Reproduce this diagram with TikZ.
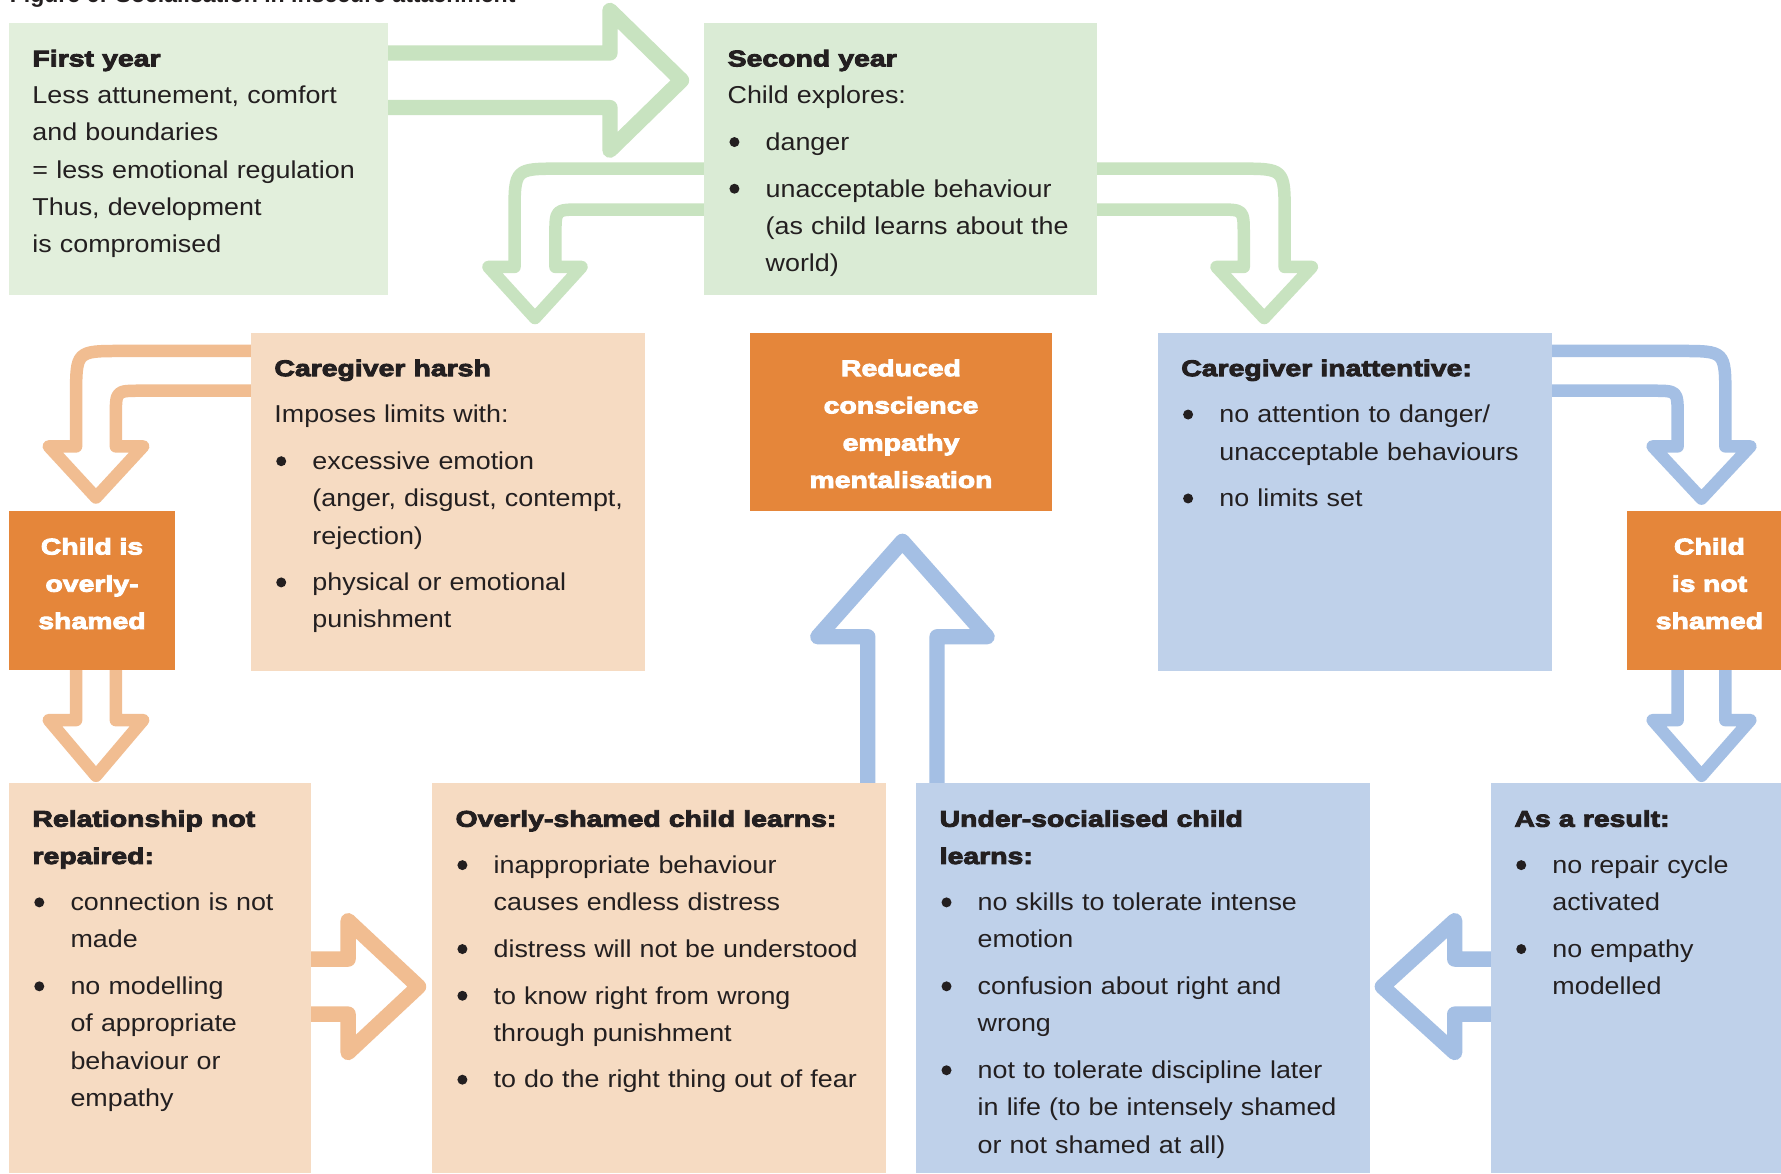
\documentclass[tikz,border=0pt]{standalone}
\usepackage{fontspec}
\setmainfont{Liberation Sans}[FakeStretch=1.1]
\newfontfamily\hdfont{Liberation Sans}[UprightFont={* Bold},BoldFont={* Bold},FakeStretch=1.25,FakeBold=4]
\newfontfamily\ttlfont{Liberation Sans}
\usetikzlibrary{calc,backgrounds}

\definecolor{txt}{HTML}{231F20}
\definecolor{gboxA}{HTML}{E2EFDC}
\definecolor{gboxB}{HTML}{DAEBD5}
\definecolor{garr}{HTML}{C8E3C0}
\definecolor{pbox}{HTML}{F6DBC2}
\definecolor{parr}{HTML}{F1BD91}
\definecolor{obox}{HTML}{E5863A}
\definecolor{bbox}{HTML}{BFD1EA}
\definecolor{barr}{HTML}{A4BFE4}

\newcommand\bodyfont{\fontsize{21.5}{32.8}\selectfont}
\newcommand\hd[1]{{\hdfont\fontsize{20}{32.8}\selectfont #1}}
\newcommand\bul{\makebox[33.5pt][l]{\hspace*{1.6pt}\tikz[baseline=0pt]\fill[txt] (4.4pt,7.3pt) circle[radius=4.4pt];}}
\newcommand\gap{\par\vspace{8.3pt}}
% bullet item: hanging indent, lines inside broken with \newline
\newcommand\itm{\par\vspace{8.3pt}\hangindent=33.5pt\hangafter=1\noindent\bul}

% hollow block arrow: style, start (shaft centre), tip, shaft half width, head half width, head length
\newcommand\blockarrow[6]{%
  \path ($(#3)!#6!(#2)$) coordinate (bab);
  \draw[#1] ($(#2)!#4!90:(#3)$) -- ($(bab)!#4!90:(#3)$) -- ($(bab)!#5!90:(#3)$) -- (#3)
    -- ($(bab)!#5!-90:(#3)$) -- ($(bab)!#4!-90:(#3)$) -- ($(#2)!#4!-90:(#3)$);
}

\begin{document}
\begin{tikzpicture}[x=1pt,y=-1pt,
  panel/.style={rectangle, draw=none, inner sep=0pt, outer sep=0pt, anchor=north west},
  boxtext/.style={anchor=north west, inner sep=0pt, text width=420pt, align=left, text=txt, font=\bodyfont},
  tagtext/.style={anchor=north, inner sep=0pt, text width=200pt, align=center, text=white,
    font=\hdfont\fontsize{20}{32.8}\selectfont},
  bigarrow/.style={draw=#1, line width=13.5pt, line join=round},
  smallarrow/.style={draw=#1, line width=11pt, line join=round}]

\useasboundingbox (0,0) rectangle (1568,1033);

% title, mostly above the page edge
\node[anchor=base west, inner sep=0pt, text=txt, font=\ttlfont\bfseries\fontsize{20.3}{24}\selectfont]
  (ttl) at (8.4,2.3) {Figure 6: Socialisation in insecure attachment};

% panels
\node[panel, fill=gboxA, minimum width=334pt,   minimum height=239.7pt] (fy)  at (8,20.3) {};
\node[panel, fill=gboxB, minimum width=346pt,   minimum height=239.7pt] (sy)  at (620,20.3) {};
\node[panel, fill=pbox,  minimum width=347pt,   minimum height=297.5pt] (ch)  at (221,293) {};
\node[panel, fill=obox,  minimum width=265.5pt, minimum height=156.6pt] (rc)  at (660.5,293) {};
\node[panel, fill=bbox,  minimum width=347.2pt, minimum height=297.5pt] (ci)  at (1019.4,293) {};
\node[panel, fill=obox,  minimum width=146pt,   minimum height=140pt]   (cos) at (8,450) {};
\node[panel, fill=obox,  minimum width=135.4pt, minimum height=140pt]   (cns) at (1432.6,450) {};
\node[panel, fill=pbox,  minimum width=266pt,   minimum height=343.3pt] (rel) at (8,689.7) {};
\node[panel, fill=pbox,  minimum width=399.5pt, minimum height=343.3pt] (os)  at (380.5,689.7) {};
\node[panel, fill=bbox,  minimum width=399.3pt, minimum height=343.3pt] (us)  at (806.7,689.7) {};
\node[panel, fill=bbox,  minimum width=255.3pt, minimum height=343.3pt] (ar)  at (1312.7,689.7) {};

% panel texts
\node[boxtext] (fyt) at ($(fy.north west)+(20.4,15)$) {\strut\hd{First year}\\
  Less attunement, comfort\\
  and boundaries\\
  = less emotional regulation\\
  Thus, development\\
  is compromised\par};

\node[boxtext] (syt) at ($(sy.north west)+(20.4,15)$) {\strut\hd{Second year}\\
  Child explores:
  \itm danger
  \itm unacceptable behaviour\newline(as child learns about the\newline world)\par};

\node[boxtext] (cht) at ($(ch.north west)+(20.4,15)$) {\strut\hd{Caregiver harsh}
  \gap Imposes limits with:
  \itm excessive emotion\newline(anger, disgust, contempt,\newline rejection)
  \itm physical or emotional\newline punishment\par};

\node[boxtext] (cit) at ($(ci.north west)+(20.4,15)$) {\strut\hd{Caregiver inattentive:}
  \itm no attention to danger/\newline unacceptable behaviours
  \itm no limits set\par};

\node[boxtext] (relt) at ($(rel.north west)+(20.4,15)$) {\strut\hd{Relationship not}\\\hd{repaired:}
  \itm connection is not\newline made
  \itm no modelling\newline of appropriate\newline behaviour or\newline empathy\par};

\node[boxtext] (ost) at ($(os.north west)+(20.4,15)$) {\strut\hd{Overly-shamed child learns:}
  \itm inappropriate behaviour\newline causes endless distress
  \itm distress will not be understood
  \itm to know right from wrong\newline through punishment
  \itm to do the right thing out of fear\par};

\node[boxtext] (ust) at ($(us.north west)+(20.4,15)$) {\strut\hd{Under-socialised child}\\\hd{learns:}
  \itm no skills to tolerate intense\newline emotion
  \itm confusion about right and\newline wrong
  \itm not to tolerate discipline later\newline in life (to be intensely shamed\newline or not shamed at all)\par};

\node[boxtext] (art) at ($(ar.north west)+(20.4,15)$) {\strut\hd{As a result:}
  \itm no repair cycle\newline activated
  \itm no empathy\newline modelled\par};

\node[tagtext] (rct)  at ($(rc.north)+(0,15)$) {\strut Reduced\\conscience\\empathy\\mentalisation};
\node[tagtext] (cost) at ($(cos.north)+(0,15)$) {\strut Child is\\overly-\\shamed};
\node[tagtext] (cnst) at ($(cns.north west)+(72.4,15)$) {\strut Child\\is not\\shamed};

% arrows behind the panels
\begin{scope}[on background layer]
  \fill[white] (0,0) rectangle (1568,1033);

  % first year -> second year
  \coordinate (a1s) at ($(fy.north east)+(-4,50.4)$);
  \coordinate (a1t) at ($(sy.north west)+(-20,50.4)$);
  \blockarrow{bigarrow=garr}{a1s}{a1t}{24pt}{61.5pt}{63pt}

  % under-socialised -> reduced conscience
  \coordinate (a2s) at ($(us.north west)+(-12.2,4)$);
  \coordinate (a2t) at ($(rc.south)+(1.25,27)$);
  \blockarrow{bigarrow=barr}{a2s}{a2t}{30.5pt}{74.5pt}{84pt}

  % relationship not repaired -> overly-shamed child learns
  \coordinate (a3s) at ($(rel.north east)+(-4,178.9)$);
  \coordinate (a3t) at ($(os.north west)+(-12,178.9)$);
  \blockarrow{bigarrow=parr}{a3s}{a3t}{24.2pt}{58pt}{62pt}

  % as a result -> under-socialised
  \coordinate (a4s) at ($(ar.north west)+(4,178.9)$);
  \coordinate (a4t) at ($(us.north east)+(11,178.9)$);
  \blockarrow{bigarrow=barr}{a4s}{a4t}{24.2pt}{58pt}{63.7pt}

  % child is overly-shamed -> relationship not repaired
  \coordinate (a5s) at ($(cos.south west)+(76.5,-4)$);
  \coordinate (a5t) at ($(rel.north west)+(76.5,-6.7)$);
  \blockarrow{smallarrow=parr}{a5s}{a5t}{17.5pt}{41.5pt}{49pt}

  % child is not shamed -> as a result
  \coordinate (a6s) at ($(cns.south west)+(65.4,-4)$);
  \coordinate (a6t) at ($(ar.north west)+(185.3,-6.7)$);
  \blockarrow{smallarrow=barr}{a6s}{a6t}{21pt}{43pt}{49pt}

  % second year -> caregiver harsh
  \begin{scope}[shift={(sy.north west)}]
    \draw[smallarrow=garr] (6,128.2) -- (-127,128.2) .. controls (-167,128.2) .. (-167,168.2)
      -- (-167,214.7) -- (-190,214.7) -- (-149,259.7) -- (-108,214.7) -- (-131,214.7)
      -- (-131,186.2) .. controls (-131,164.2) .. (-109,164.2) -- (6,164.2);
  \end{scope}

  % second year -> caregiver inattentive
  \begin{scope}[shift={(sy.north east)}]
    \draw[smallarrow=garr] (-6,128.2) -- (125,128.2) .. controls (165,128.2) .. (165,168.2)
      -- (165,214.7) -- (189,214.7) -- (147,259.7) -- (105,214.7) -- (129,214.7)
      -- (129,186.2) .. controls (129,164.2) .. (107,164.2) -- (-6,164.2);
  \end{scope}

  % caregiver harsh -> child is overly-shamed
  \begin{scope}[shift={(ch.north west)}]
    \draw[smallarrow=parr] (6,16) -- (-114,16) .. controls (-154,16) .. (-154,56)
      -- (-154,100) -- (-178,100) -- (-136.5,145) -- (-95,100) -- (-119,100)
      -- (-119,73) .. controls (-119,51) .. (-97,51) -- (6,51);
  \end{scope}

  % caregiver inattentive -> child is not shamed
  \begin{scope}[shift={(ci.north east)}]
    \draw[smallarrow=barr] (-6,16) -- (112.4,16) .. controls (152.4,16) .. (152.4,56)
      -- (152.4,100) -- (174.4,100) -- (131.4,146) -- (88.4,100) -- (110.4,100)
      -- (110.4,73) .. controls (110.4,51) .. (88.4,51) -- (-6,51);
  \end{scope}
\end{scope}
\end{tikzpicture}
\end{document}
